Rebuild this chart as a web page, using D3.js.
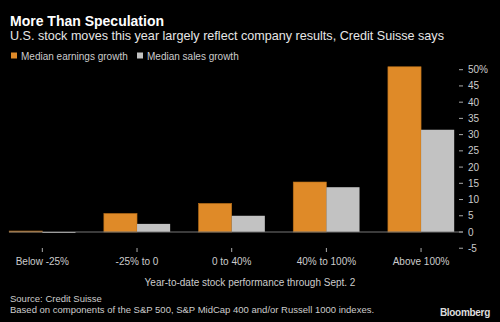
<!DOCTYPE html>
<html>
<head>
<meta charset="utf-8">
<script src="https://cdn.jsdelivr.net/npm/d3@7"></script>
<style>
  body { margin: 0; background: #000; }
  svg { display: block; font-family: "Liberation Sans", Arial, sans-serif; }
</style>
</head>
<body>
<svg id="chart"></svg>
<script>
  var categories = ["Below -25%", "-25% to 0", "0 to 40%", "40% to 100%", "Above 100%"];
  var seriesNames = ["Median earnings growth", "Median sales growth"];
  var earnings = [0.3, 5.7, 8.8, 15.4, 50.9];
  var sales = [-0.3, 2.5, 5.0, 13.8, 31.5];
  var yTicks = [-5, 0, 5, 10, 15, 20, 25, 30, 35, 40, 45, 50];
  var colors = ["#df8a28", "#c2c2c2"];

  var W = 500, H = 322;
  var svg = d3.select("#chart").attr("width", W).attr("height", H);
  svg.append("rect").attr("width", W).attr("height", H).attr("fill", "#000");

  // titles
  svg.append("text").attr("x", 10).attr("y", 25.5)
    .attr("fill", "#fff").attr("font-size", 14).attr("font-weight", "bold")
    .text("More Than Speculation");
  svg.append("text").attr("x", 10).attr("y", 39.5)
    .attr("fill", "#e6e6e6").attr("font-size", 12.6)
    .text("U.S. stock moves this year largely reflect company results, Credit Suisse says");

  // legend
  var legend = svg.append("g");
  var lx = [11, 137];
  seriesNames.forEach(function(name, i) {
    legend.append("rect").attr("x", lx[i]).attr("y", 52.5).attr("width", 6).attr("height", 6)
      .attr("fill", colors[i]);
    legend.append("text").attr("x", lx[i] + 10).attr("y", 59.5)
      .attr("fill", "#ccc").attr("font-size", 10).text(name);
  });

  var x = d3.scaleBand().domain(categories).range([-5, 468.4]).padding(0);
  var xs = d3.scaleBand().domain(seriesNames)
    .range([x.bandwidth() * 0.15, x.bandwidth() * 0.85]);
  var y = d3.scaleLinear().domain([0, 50]).range([232, 69.7]);

  var rows = categories.map(function(c, i) {
    return { cat: c, vals: [earnings[i], sales[i]] };
  });

  var groups = svg.append("g").selectAll("g").data(rows).enter().append("g")
    .attr("transform", function(d) { return "translate(" + x(d.cat) + ",0)"; });

  groups.selectAll("rect").data(function(d) {
      return d.vals.map(function(v, i) { return { s: seriesNames[i], v: v, i: i }; });
    }).enter().append("rect")
    .attr("x", function(d) { return xs(d.s); })
    .attr("width", xs.bandwidth())
    .attr("y", function(d) { return Math.min(y(d.v), y(0)); })
    .attr("height", function(d) { return Math.max(1, Math.abs(y(d.v) - y(0))); })
    .attr("fill", function(d) { return colors[d.i]; })
    .attr("stroke", function(d) { return d.i === 0 ? "#b86e18" : "none"; })
    .attr("stroke-width", 0.6);

  // zero line
  svg.append("line").attr("x1", 9).attr("x2", 463)
    .attr("y1", y(0)).attr("y2", y(0))
    .attr("stroke", "#777").attr("stroke-width", 1);

  // y axis
  var yAxis = svg.append("g").attr("transform", "translate(459,0)");
  yAxis.selectAll("line").data(yTicks).enter().append("line")
    .attr("x1", 0).attr("x2", 4)
    .attr("y1", function(d) { return y(d); }).attr("y2", function(d) { return y(d); })
    .attr("stroke", "#aaa");
  yAxis.selectAll("text").data(yTicks).enter().append("text")
    .attr("x", 9).attr("y", function(d) { return y(d) + 3.5; })
    .attr("fill", "#ccc").attr("font-size", 10)
    .text(function(d) { return d === 50 ? "50%" : d; });

  // x axis
  var xAxis = svg.append("g");
  xAxis.selectAll("line").data(categories).enter().append("line")
    .attr("x1", function(d) { return x(d) + x.bandwidth() / 2; })
    .attr("x2", function(d) { return x(d) + x.bandwidth() / 2; })
    .attr("y1", 248).attr("y2", 252)
    .attr("stroke", "#aaa");
  xAxis.selectAll("text").data(categories).enter().append("text")
    .attr("x", function(d) { return x(d) + x.bandwidth() / 2; })
    .attr("y", 264.5).attr("text-anchor", "middle")
    .attr("fill", "#ccc").attr("font-size", 10)
    .text(function(d) { return d; });

  svg.append("text").attr("x", 250).attr("y", 286)
    .attr("text-anchor", "middle").attr("fill", "#ccc").attr("font-size", 10)
    .text("Year-to-date stock performance through Sept. 2");

  // footer
  svg.append("text").attr("x", 10).attr("y", 302)
    .attr("fill", "#ccc").attr("font-size", 9.5).text("Source: Credit Suisse");
  svg.append("text").attr("x", 10).attr("y", 312.5)
    .attr("fill", "#ccc").attr("font-size", 9.5)
    .text("Based on components of the S&P 500, S&P MidCap 400 and/or Russell 1000 indexes.");
  svg.append("text").attr("x", 490).attr("y", 316)
    .attr("text-anchor", "end").attr("fill", "#ddd").attr("font-size", 10)
    .attr("font-weight", "bold").attr("letter-spacing", -0.3).text("Bloomberg");
</script>
</body>
</html>
